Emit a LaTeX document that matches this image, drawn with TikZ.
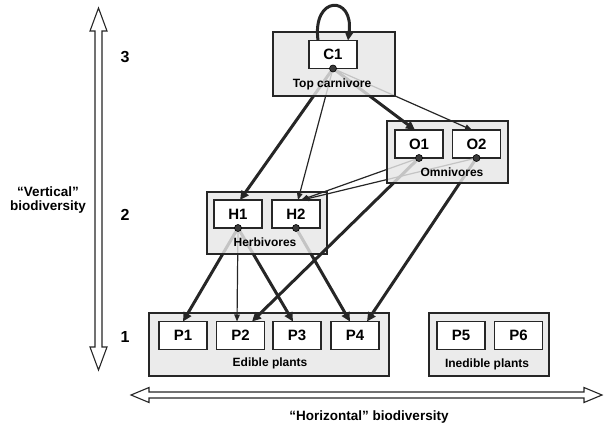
\documentclass[tikz,border=0pt]{standalone}
\usepackage{fontspec}
\setmainfont{Liberation Sans}
\usetikzlibrary{arrows.meta}
\definecolor{grpfill}{HTML}{EBEBEB}
\definecolor{edgecol}{HTML}{262626}
\definecolor{overgray}{HTML}{C4C4C4}
\definecolor{dotcol}{HTML}{3A3A3A}
\begin{document}
\begin{tikzpicture}[x=1pt,y=-1pt,
  grp/.style={rectangle, inner sep=0pt, outer sep=0pt, fill=grpfill},
  grpborder/.style={draw=edgecol, line width=2.4pt},
  box/.style={rectangle, draw=edgecol, line width=1.4pt, fill=white, minimum width=48pt, minimum height=28pt, inner sep=0pt, outer sep=0pt, font=\fontsize{15}{17}\selectfont\bfseries},
  glabel/.style={font=\fontsize{12}{14}\selectfont\bfseries},
  lvl/.style={font=\fontsize{16}{18}\selectfont\bfseries},
  axislabel/.style={font=\fontsize{13.5}{14.5}\selectfont\bfseries, align=center},
  strong/.style={draw=edgecol, line width=3pt, -{Triangle[length=9pt,width=8.5pt]}},
  weak/.style={draw=edgecol, line width=1.2pt, -{Triangle[length=7pt,width=5.5pt]}},
  strongg/.style={draw=overgray, line width=3pt},
  weakg/.style={draw=overgray, line width=1.2pt},
  dot/.style={circle, fill=dotcol, draw=black, line width=0.6pt, inner sep=0pt, minimum size=7pt},
  hollow/.style={draw=edgecol, line width=1.1pt, fill=white, line join=miter}
]
\useasboundingbox (0,0) rectangle (609,428);

% axes
\draw[hollow] (98.5,8) -- (107,31) -- (102,31) -- (102,347) -- (107,347) -- (98.5,370) -- (90,347) -- (95,347) -- (95,31) -- (90,31) -- cycle;
\draw[hollow] (131,395) -- (149,387.5) -- (149,392) -- (584,392) -- (584,387.5) -- (602,395) -- (584,402.5) -- (584,398) -- (149,398) -- (149,402.5) -- cycle;
\node[axislabel] (vlab) at (48,200) {``Vertical''\\biodiversity};
\node[axislabel] (hlab) at (369,417) {``Horizontal'' biodiversity};
\node[lvl] (l3) at (125,57) {3};
\node[lvl] (l2) at (125,215) {2};
\node[lvl] (l1) at (125,337) {1};

% groups
\node[grp, minimum width=122pt, minimum height=64pt] (gC) at (334,64) {};
\node[grp, minimum width=121pt, minimum height=62pt] (gO) at (447.5,152) {};
\node[grp, minimum width=120pt, minimum height=62pt] (gH) at (267,223) {};
\node[grp, minimum width=240pt, minimum height=63pt] (gP) at (269,344.5) {};
\node[grp, minimum width=120pt, minimum height=63pt] (gI) at (489,344.5) {};

% inner boxes
\node[box] (C1) at (333,54.5) {C1};
\node[box] (O1) at (419,144) {O1};
\node[box] (O2) at (476.5,144) {O2};
\node[box] (H1) at (238,214) {H1};
\node[box] (H2) at (296,214) {H2};
\node[box] (P1) at (183,335.5) {P1};
\node[box] (P2) at (240.5,335.5) {P2};
\node[box] (P3) at (297,335.5) {P3};
\node[box] (P4) at (355,335.5) {P4};
\node[box] (P5) at (461,335.5) {P5};
\node[box] (P6) at (518.5,335.5) {P6};

% self loop
\draw[strong] ([xshift=-15pt]C1.north) .. controls (312,-5) and (354,-5) .. ([xshift=15pt]C1.north);

% edges: black outside the source group
\begin{scope}[even odd rule]
\clip (-20,-20) rectangle (630,450) (gC.north west) rectangle (gC.south east);
\draw[strong] (C1.south) -- ([xshift=2pt]H1.north);
\draw[weak]   (C1.south) -- ([xshift=2pt]H2.north);
\draw[strong] (C1.south) -- ([xshift=-4pt]O1.north);
\draw[weak]   (C1.south) -- ([xshift=-4.5pt]O2.north);
\end{scope}
\begin{scope}[even odd rule]
\clip (-20,-20) rectangle (630,450) (gO.north west) rectangle (gO.south east);
\draw[weak]   (O1.south) -- ([xshift=5pt]H2.north);
\draw[weak]   (O2.south) -- ([xshift=6pt]H2.north);
\draw[strong] (O1.south) -- ([xshift=11.5pt]P2.north);
\draw[strong] (O2.south) -- ([xshift=12pt]P4.north);
\end{scope}
\begin{scope}[even odd rule]
\clip (-20,-20) rectangle (630,450) (gH.north west) rectangle (gH.south east);
\draw[strong] (H1.south) -- (P1.north);
\draw[weak]   (H1.south) -- ([xshift=-3.5pt]P2.north);
\draw[strong] (H1.south) -- ([xshift=-4pt]P3.north);
\draw[strong] (H2.south) -- ([xshift=-5pt]P4.north);
\end{scope}

% gray parts inside source groups
\begin{scope}
\clip (gC.north west) rectangle (gC.south east);
\draw[strongg] (C1.south) -- ([xshift=2pt]H1.north);
\draw[weakg]   (C1.south) -- ([xshift=2pt]H2.north);
\draw[strongg] (C1.south) -- ([xshift=-4pt]O1.north);
\draw[weakg]   (C1.south) -- ([xshift=-4.5pt]O2.north);
\end{scope}
\begin{scope}
\clip (gO.north west) rectangle (gO.south east);
\draw[weakg]   (O1.south) -- ([xshift=5pt]H2.north);
\draw[weakg]   (O2.south) -- ([xshift=6pt]H2.north);
\draw[strongg] (O1.south) -- ([xshift=11.5pt]P2.north);
\draw[strongg] (O2.south) -- ([xshift=12pt]P4.north);
\end{scope}
\begin{scope}
\clip (gH.north west) rectangle (gH.south east);
\draw[strongg] (H1.south) -- (P1.north);
\draw[weakg]   (H1.south) -- ([xshift=-3.5pt]P2.north);
\draw[strongg] (H1.south) -- ([xshift=-4pt]P3.north);
\draw[strongg] (H2.south) -- ([xshift=-5pt]P4.north);
\end{scope}

% group borders
\foreach \g in {gC,gO,gH,gP,gI} \draw[grpborder] (\g.north west) rectangle (\g.south east);

% dots
\node[dot] (dC1) at (C1.south) {};
\node[dot] (dO1) at (O1.south) {};
\node[dot] (dO2) at (O2.south) {};
\node[dot] (dH1) at (H1.south) {};
\node[dot] (dH2) at (H2.south) {};

% group labels
\node[glabel] (tC) at (332,84) {Top carnivore};
\node[glabel] (tO) at (452,172) {Omnivores};
\node[glabel] (tH) at (265,242) {Herbivores};
\node[glabel] (tP) at (270,363) {Edible plants};
\node[glabel] (tI) at (487,364) {Inedible plants};
\end{tikzpicture}
\end{document}
